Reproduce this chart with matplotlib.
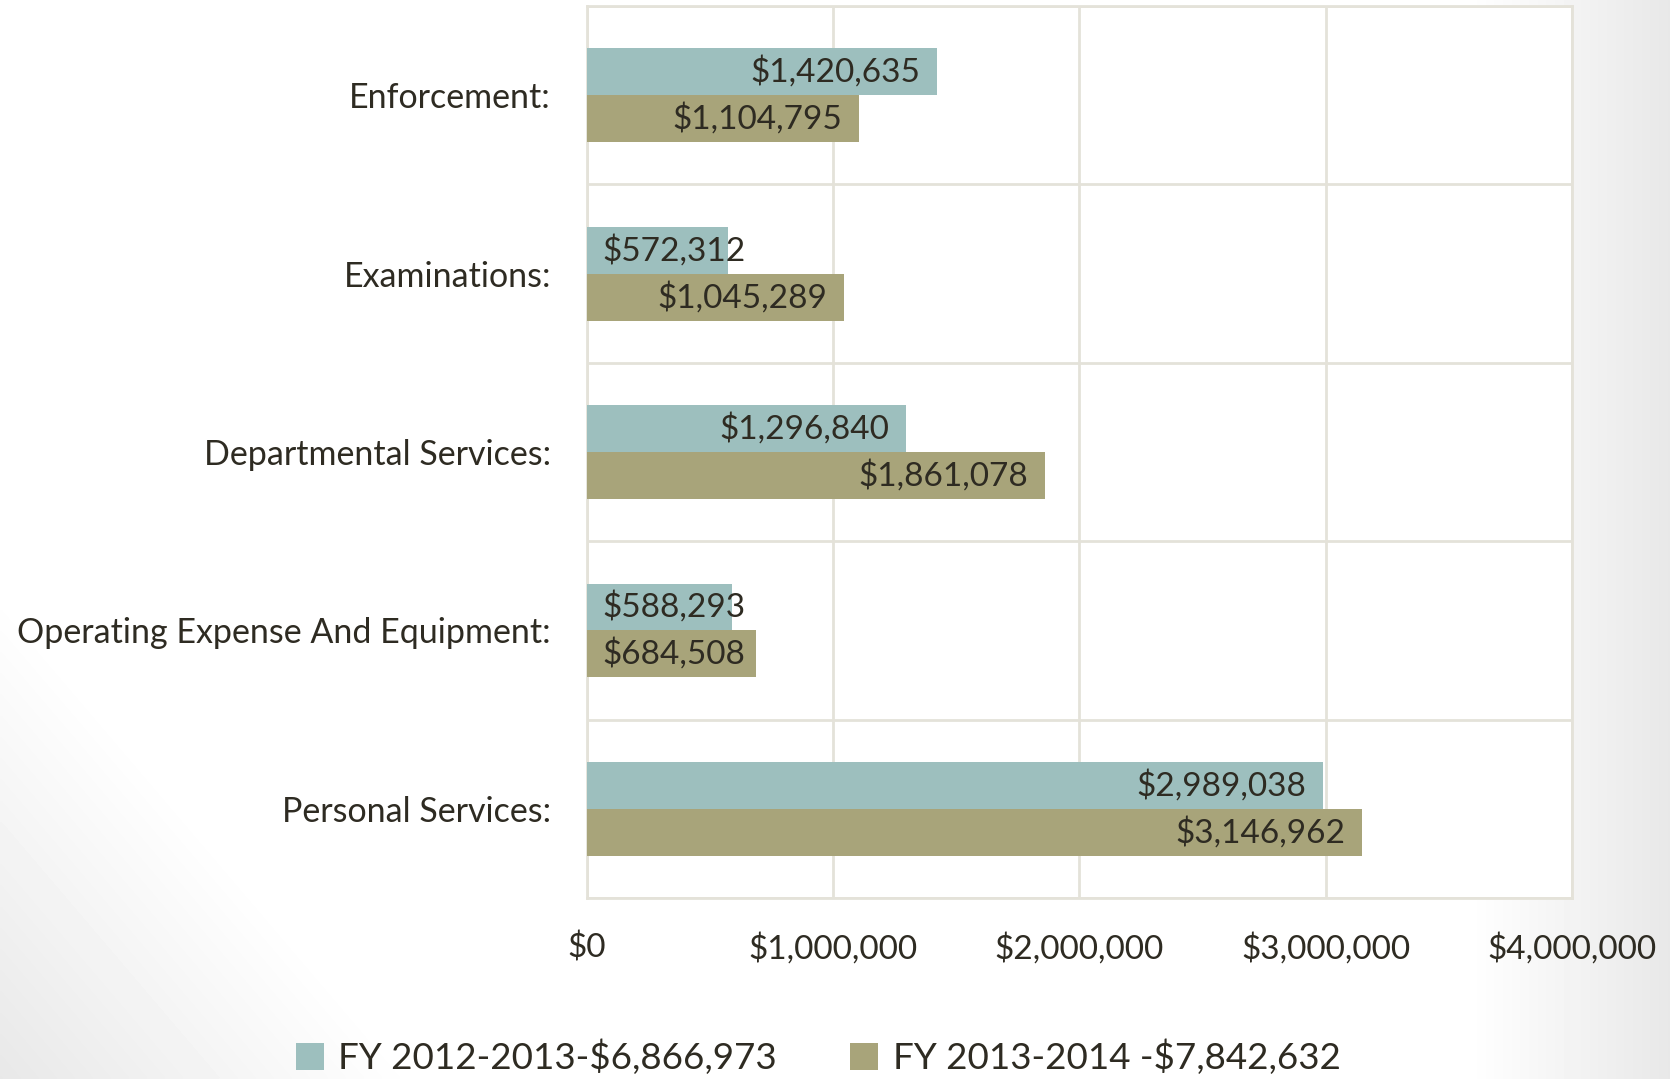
import numpy as np
import matplotlib
matplotlib.use("Agg")
import matplotlib.pyplot as plt
from matplotlib.ticker import FuncFormatter, MultipleLocator

plt.rcParams['font.family'] = ['Lato', 'DejaVu Sans']

categories = ["Enforcement:", "Examinations:", "Departmental Services:",
              "Operating Expense And Equipment:", "Personal Services:"]
fy_2012_2013 = [1420635, 572312, 1296840, 588293, 2989038]
fy_2013_2014 = [1104795, 1045289, 1861078, 684508, 3146962]
series_labels = ["FY 2012-2013-$6,866,973", "FY 2013-2014 -$7,842,632"]

teal = "#9DBFBE"
olive = "#A8A47A"
text_color = "#2E2B22"
grid_color = "#E4E2D9"

fig = plt.figure(figsize=(16.7, 10.79), dpi=100)

# soft grey shading toward the edges of the slide
bg = fig.add_axes([0, 0, 1, 1], zorder=-10)
yy, xx = np.mgrid[0:1:300j, 0:1:460j]
shade = np.maximum(0, xx - 0.88) / 0.12 * 0.09
shade = np.maximum(shade, np.clip((0.25 - (xx + (1 - yy) * 0.55)) / 0.25, 0, 1) * 0.09)
bg.imshow(1 - shade, cmap="gray", vmin=0, vmax=1, extent=[0, 1, 0, 1],
          aspect="auto", origin="upper", interpolation="bilinear")
bg.axis("off")

ax = fig.add_axes([0.3515, 0.1677, 0.5898, 0.8267])
ax.set_facecolor("white")

y = np.arange(len(categories))
h = 0.263
bars1 = ax.barh(y - h / 2, fy_2012_2013, height=h, color=teal, zorder=3)
bars2 = ax.barh(y + h / 2, fy_2013_2014, height=h, color=olive, zorder=3)

ax.set_xlim(0, 4000000)
ax.set_ylim(len(categories) - 0.5, -0.5)
ax.xaxis.set_major_locator(MultipleLocator(1000000))
ax.xaxis.set_major_formatter(FuncFormatter(lambda v, p: "${:,.0f}".format(v)))
ax.set_yticks(y)
ax.set_yticklabels(categories)
ax.set_yticks(np.arange(len(categories) + 1) - 0.5, minor=True)

ax.grid(axis="x", which="major", color=grid_color, linewidth=2, zorder=0)
ax.grid(axis="y", which="minor", color=grid_color, linewidth=2, zorder=0)
ax.tick_params(axis="both", which="both", length=0)
ax.tick_params(axis="x", labelsize=24, colors=text_color, pad=25)
ax.tick_params(axis="y", labelsize=24.5, colors=text_color, pad=26)
for s in ax.spines.values():
    s.set_color(grid_color)
    s.set_linewidth(2)

# value labels at the inside end of each bar
fig.canvas.draw()
renderer = fig.canvas.get_renderer()
x0_px = ax.transData.transform((0, 0))[0]
for bars, vals in ((bars1, fy_2012_2013), (bars2, fy_2013_2014)):
    for b, v in zip(bars, vals):
        yc = b.get_y() + b.get_height() / 2
        t = ax.annotate("${:,.0f}".format(v), (v, yc), xytext=(-17, 0),
                        textcoords="offset pixels", ha="right", va="center",
                        fontsize=24, color=text_color, zorder=4)
        ext = t.get_window_extent(renderer)
        if ext.x0 < x0_px + 15:
            t.remove()
            ax.annotate("${:,.0f}".format(v), (0, yc), xytext=(15, 0),
                        textcoords="offset pixels", ha="left", va="center",
                        fontsize=24, color=text_color, zorder=4)

fig.legend([bars1, bars2], series_labels, loc="center", bbox_to_anchor=(0.49, 0.02),
           ncol=2, frameon=False, fontsize=26.5, labelcolor=text_color,
           handlelength=0.75, handleheight=0.75, handletextpad=0.4, columnspacing=2.0)

fig.savefig("out.png", dpi=100)
